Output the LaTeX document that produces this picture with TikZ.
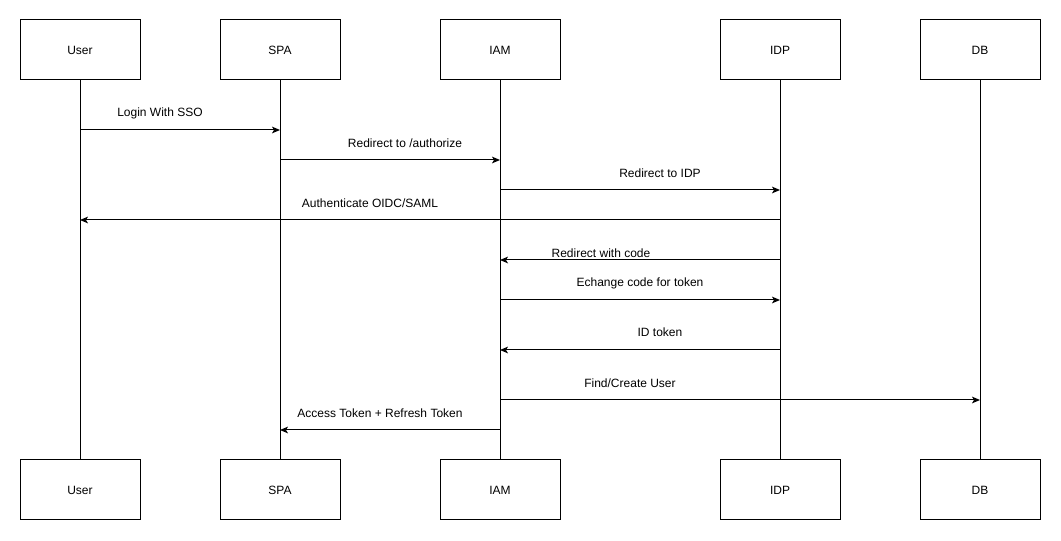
\documentclass[tikz,border=0pt]{standalone}
\usepackage{fontspec}
\setmainfont{Liberation Sans}
\usetikzlibrary{arrows.meta}
\begin{document}
\begin{tikzpicture}[x=0.75pt,y=-0.75pt,
  actor/.style={draw,line width=0.75pt,minimum width=90pt,minimum height=45pt,inner sep=0pt,font=\fontsize{9}{11}\selectfont},
  life/.style={line width=0.75pt},
  msg/.style={line width=0.75pt,-{Stealth[length=6pt,width=5pt,inset=1.5pt]}},
  lbl/.style={font=\fontsize{9}{11}\selectfont,inner sep=0pt}]
\useasboundingbox (0,0) rectangle (1061,541);
\foreach \n/\t/\x in {user/User/80,spa/SPA/280,iam/IAM/500,idp/IDP/780,db/DB/980}{
  \node[actor] (\n T) at (\x,50) {\t};
  \node[actor] (\n B) at (\x,490) {\t};
  \draw[life] (\n T.south) -- (\n B.north);
}
\foreach \i/\y in {1/130,2/160,3/190,4/220,5/260,6/300,7/350,8/400,9/430}{
  \coordinate (m\i) at (0,\y);
}
\draw[msg] (userT |- m1) -- (spaT |- m1);
\draw[msg] (spaT |- m2) -- (iamT |- m2);
\draw[msg] (iamT |- m3) -- (idpT |- m3);
\draw[msg] (idpT |- m4) -- (userT |- m4);
\draw[msg] (idpT |- m5) -- (iamT |- m5);
\draw[msg] (iamT |- m6) -- (idpT |- m6);
\draw[msg] (idpT |- m7) -- (iamT |- m7);
\draw[msg] (iamT |- m8) -- (dbT |- m8);
\draw[msg] (iamT |- m9) -- (spaT |- m9);
\node[lbl] (l1) at (160,113) {Login With SSO};
\node[lbl] (l2) at (405,143) {Redirect to /authorize};
\node[lbl] (l3) at (660,173) {Redirect to IDP};
\node[lbl] (l4) at (370,203) {Authenticate OIDC/SAML};
\node[lbl] (l5) at (601,253) {Redirect with code};
\node[lbl] (l6) at (640,283) {Echange code for token};
\node[lbl] (l7) at (660,332) {ID token};
\node[lbl] (l8) at (630,383) {Find/Create User};
\node[lbl] (l9) at (380,413) {Access Token + Refresh Token};
\end{tikzpicture}
\end{document}
